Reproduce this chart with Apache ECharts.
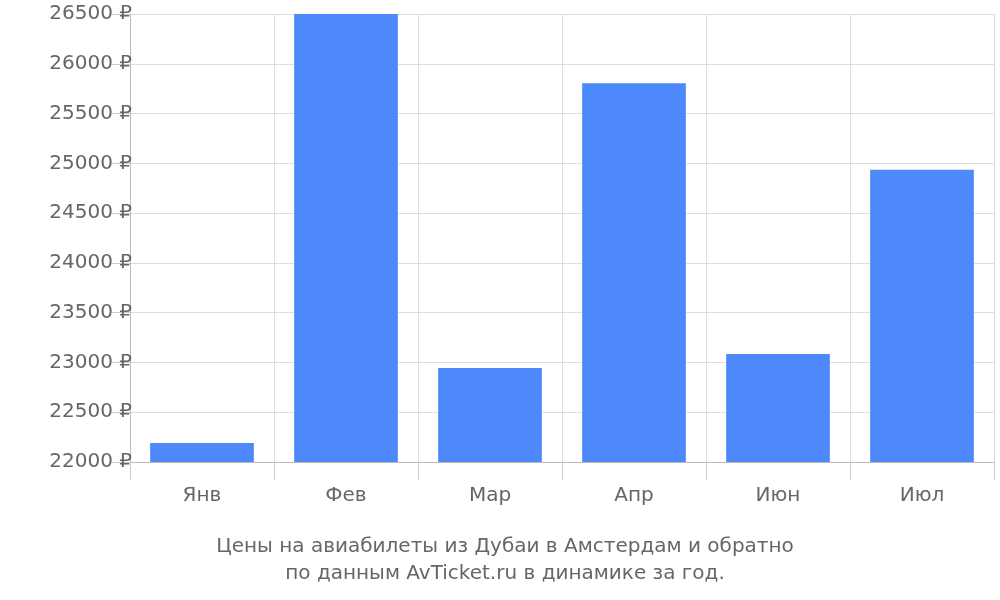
<!DOCTYPE html>
<html><head><meta charset="utf-8">
<script src="https://cdn.jsdelivr.net/npm/echarts@6/dist/echarts.min.js"></script>
<style>html,body{margin:0;padding:0;background:#fff}#c{width:1000px;height:600px}</style>
</head><body><div id="c"></div>
<script>
const categories = ['Янв','Фев','Мар','Апр','Июн','Июл'];
const prices = [22190, 26500, 22945, 25805, 23085, 24935];
const titleLines = ['Цены на авиабилеты из Дубаи в Амстердам и обратно','по данным AvTicket.ru в динамике за год.'];
const chart = echarts.init(document.getElementById('c'));
chart.setOption({
  animation:false,
  textStyle:{fontFamily:'DejaVu Sans'},
  grid:{left:130,right:6,top:14,bottom:138},
  title:{text:titleLines.join('\n'),left:500,textAlign:'center',bottom:8,
    textStyle:{fontFamily:'DejaVu Sans',fontSize:20,fontWeight:'normal',color:'#666',lineHeight:27}},
  xAxis:{type:'category',data:categories,
    axisLine:{lineStyle:{color:'#bbb'}},
    axisTick:{show:true,length:18,lineStyle:{color:'#ccc'}},
    splitLine:{show:true,lineStyle:{color:'#ddd'}},
    axisLabel:{fontSize:20,color:'#666',margin:24}},
  yAxis:{type:'value',min:22000,max:26500,interval:500,
    axisLine:{show:true,lineStyle:{color:'#bbb'}},
    axisTick:{show:true,length:18,lineStyle:{color:'#ccc'}},
    splitLine:{lineStyle:{color:'#ddd'}},
    axisLabel:{fontSize:20,color:'#666',margin:-2,formatter:v=>v+' ₽'}},
  series:[{type:'bar',data:prices,barWidth:'72%',itemStyle:{color:'#4e89fb'}}]
});
</script></body></html>
